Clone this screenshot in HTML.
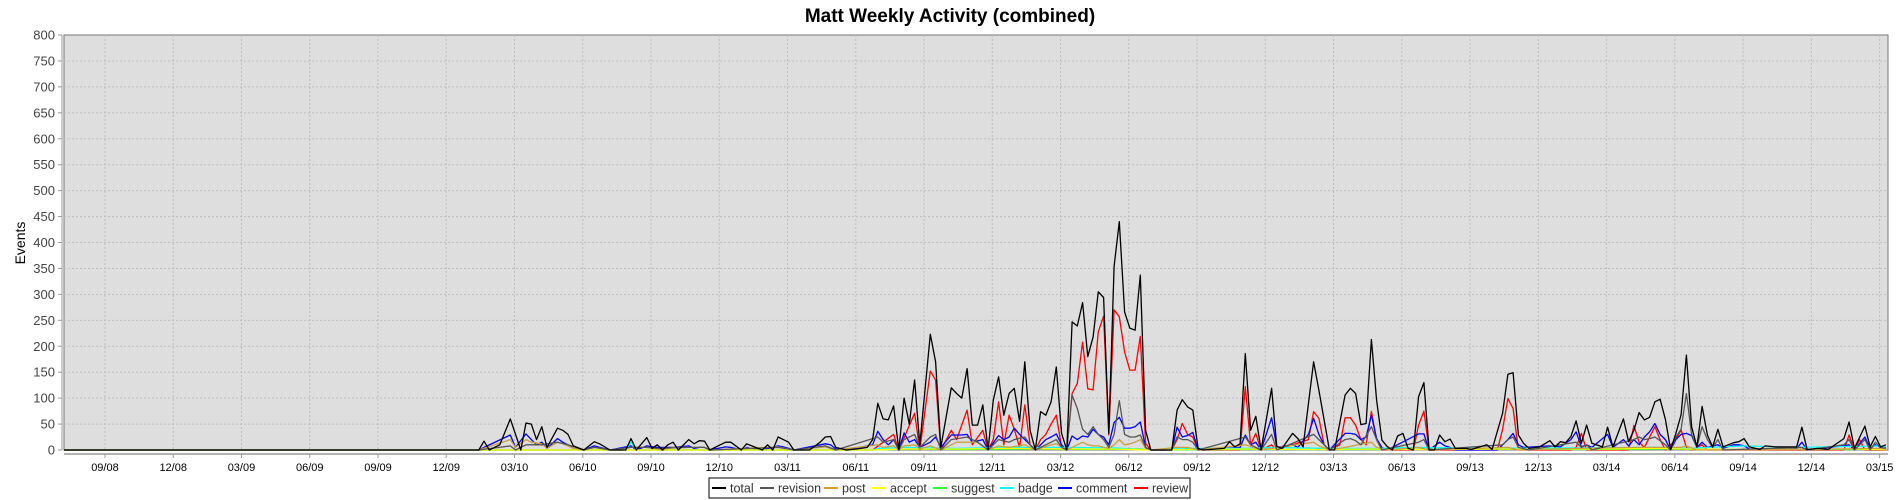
<!DOCTYPE html>
<html><head><meta charset="utf-8"><style>
html,body{margin:0;padding:0;background:#fff;width:1900px;height:500px;overflow:hidden}
svg{display:block;font-family:"Liberation Sans",sans-serif}
</style></head><body>
<svg id="chart" width="1900" height="500">
<text x="950" y="22" text-anchor="middle" font-size="19" font-weight="bold" fill="#000">Matt Weekly Activity (combined)</text>
<text transform="translate(25,243) rotate(-90)" text-anchor="middle" font-size="14" fill="#000">Events</text>
<rect x="64" y="35" width="1824" height="415" fill="#dedede" stroke="#777" stroke-width="1"/>
<g id="grid"></g><g id="yticks"></g><g id="xticks"></g><g id="series"></g>
<line x1="64" y1="454" x2="1888" y2="454" stroke="#999" stroke-width="1.5"/>
<line x1="62" y1="35" x2="62" y2="450" stroke="#999" stroke-width="1"/>
<g id="legend"></g>
</svg>
<script>
const yTicks=[0,50,100,150,200,250,300,350,400,450,500,550,600,650,700,750,800];
const xTickLabels=["09/08","12/08","03/09","06/09","09/09","12/09","03/10","06/10","09/10","12/10","03/11","06/11","09/11","12/11","03/12","06/12","09/12","12/12","03/13","06/13","09/13","12/13","03/14","06/14","09/14","12/14","03/15"];
const xTickWeeks=[7.8,20.8,33.8,46.8,59.8,72.8,85.8,98.8,111.8,124.8,137.8,150.8,163.8,176.8,189.8,202.8,215.8,228.8,241.8,254.8,267.8,280.8,293.8,306.8,319.8,332.8,345.8];
const seriesNames=["total","revision","post","accept","suggest","badge","comment","review"];
const seriesColors=["#000000","#555555","#c8a040","#ffff00","#33ff33","#00ffff","#0000ff","#ff0000"];

const totalWeeks=[0,77,79,80,81,83,85,87,88,89,90,91,92,94,95,96,97,99,101,102,104,107,108,109,111,112,113,114,115,116,117,119,120,121,122,123,125,126,127,129,130,131,133,134,135,136,137,138,139,142,144,145,146,147,149,151,153,154,155,156,157,158,159,160,161,162,163,165,166,167,169,170,171,172,173,174,175,176,177,178,179,180,181,182,183,184,185,186,187,188,189,190,191,192,193,194,195,196,197,198,199,200,201,202,203,204,205,206,207,211,212,213,214,215,216,217,221,222,223,224,225,226,227,228,230,231,232,234,235,236,238,239,241,242,244,245,246,247,248,249,250,251,252,253,254,255,256,257,258,259,260,261,262,263,264,265,267,268,271,272,274,275,276,277,278,279,281,283,284,285,286,287,288,289,290,291,293,294,295,297,298,299,300,301,302,303,304,305,306,307,308,309,310,311,312,313,314,315,316,318,319,320,321,323,324,326,330,331,332,334,336,339,340,341,343,344,345,346,347];
const totalVals=[0,0,0,17,0,10,60,0,52,50,20,45,5,42,38,30,8,0,16,12,0,0,22,0,24,3,10,0,10,15,0,20,12,18,17,0,10,15,15,0,12,8,0,10,0,25,20,15,0,0,15,25,26,5,0,2,5,20,90,60,58,85,0,100,50,135,10,223,170,5,120,109,100,157,48,48,87,1,96,141,67,109,119,55,170,38,0,74,67,93,160,32,0,247,239,284,180,218,305,294,32,354,440,266,235,231,337,38,0,0,77,97,83,77,3,0,3,16,6,12,186,38,65,0,119,7,3,32,22,6,170,115,0,0,106,119,109,49,51,213,96,19,7,0,27,32,3,0,103,130,0,0,29,16,21,3,3,1,10,1,71,146,149,29,13,3,6,18,6,16,14,26,56,13,48,13,6,44,6,60,16,38,72,58,63,93,98,59,1,32,68,183,45,6,84,29,6,40,6,14,16,22,6,1,8,6,6,44,1,3,1,22,54,3,46,6,26,6,10];

const revisionWeeks=[0,79,85,86,88,91,94,96,99,101,104,108,111,113,119,122,123,136,139,145,147,155,156,158,159,160,162,163,165,166,167,169,172,174,176,178,180,181,183,184,185,187,189,190,191,192,193,194,195,196,197,198,199,200,201,202,203,204,205,206,207,211,212,213,214,215,216,225,226,228,230,231,238,239,241,244,245,246,247,249,250,251,258,259,260,274,275,276,277,279,288,289,290,291,297,299,300,301,302,303,304,305,306,307,308,309,310,311,312,313,314,315,316,331,332,339,340,341,343,344,345,346,347];
const revisionVals=[0,0,8,0,10,10,15,10,0,5,0,5,5,3,5,5,0,5,0,8,0,25,15,20,0,20,30,5,25,30,0,20,25,15,0,20,15,20,25,10,0,10,20,5,0,106,80,40,30,45,30,20,5,30,95,30,25,25,29,5,0,0,25,20,20,15,0,25,10,0,30,0,30,20,0,20,22,18,10,45,20,0,15,20,0,10,20,25,5,0,15,5,10,0,15,20,25,20,22,25,18,10,0,25,40,109,30,5,45,20,5,20,0,5,0,10,20,0,20,0,15,5,3];

const postWeeks=[0,79,85,86,88,89,91,92,94,95,97,99,101,104,108,111,114,116,119,122,123,136,139,145,147,155,156,158,159,160,162,163,165,167,169,170,172,174,176,178,180,183,185,188,189,191,192,194,195,196,197,198,199,200,201,202,203,204,205,206,207,212,214,216,225,228,238,239,241,244,249,250,252,258,260,275,277,288,300,303,308,309,311,339,345,347];
const postVals=[0,0,20,5,20,15,12,3,15,12,3,0,5,0,5,5,0,5,5,5,0,6,0,6,0,10,5,8,0,8,10,2,8,0,10,15,15,15,0,8,5,10,0,10,12,0,5,15,10,8,8,5,3,10,20,10,12,15,20,3,0,5,5,0,10,0,15,8,0,5,15,5,0,5,0,5,0,3,5,5,5,8,0,2,3,2];

const acceptWeeks=[0,154,160,170,180,190,200,206,212,225,238,249,259,275,290,303,309,320,340,347];
const acceptVals=[0,0,2,2,3,2,2,0,1,2,1,2,1,2,2,3,2,1,2,1];

const suggestWeeks=[0,154,162,172,185,195,205,207,225,238,250,276,290,305,320,347];
const suggestVals=[0,0,2,1,2,1,2,0,1,1,1,2,1,2,1,1];

const badgeWeeks=[0,107,108,109,154,155,160,170,180,190,200,207,212,225,230,240,250,258,270,288,303,309,320,330,346,347];
const badgeVals=[0,0,15,0,0,3,5,3,5,5,4,0,3,3,5,3,3,5,3,4,5,3,8,5,8,3];

const commentWeeks=[0,79,80,85,86,88,89,90,91,92,94,95,96,97,99,101,102,104,108,109,111,113,116,119,120,121,122,123,126,127,129,130,131,133,136,137,138,139,145,146,147,149,154,155,156,157,158,159,160,161,162,163,165,166,167,169,170,171,172,173,175,176,178,179,180,181,182,183,184,185,186,187,188,189,190,191,192,193,194,195,196,197,198,199,200,201,202,203,204,205,206,207,211,212,213,214,215,216,224,225,226,227,228,230,231,234,235,237,238,239,240,241,244,245,246,247,248,249,250,251,252,258,259,260,262,263,264,265,273,274,275,276,277,278,283,285,287,288,289,290,291,294,295,297,298,299,300,301,302,303,304,305,306,307,308,309,310,311,312,313,315,316,318,319,320,321,330,331,332,339,340,341,343,344,345,346,347];
const commentVals=[0,0,5,29,5,31,20,10,15,3,22,15,10,3,0,8,5,0,8,0,8,5,5,8,3,5,5,0,6,5,0,5,3,0,8,6,3,0,12,10,2,0,10,36,20,10,20,0,33,15,20,5,15,25,5,29,29,29,30,15,20,0,28,20,25,42,30,20,10,0,10,20,25,31,10,0,27,20,27,25,40,30,25,10,53,63,42,42,45,54,5,0,0,44,25,28,34,0,5,29,10,15,0,62,5,10,5,30,61,30,10,0,32,32,30,20,25,67,22,5,0,31,31,0,15,8,5,0,0,10,20,32,10,5,8,6,20,35,6,10,5,30,5,20,8,20,10,25,35,51,30,20,0,20,30,32,28,5,15,5,10,3,10,10,8,2,3,15,0,8,10,0,25,3,10,5,5];

const reviewWeeks=[0,154,158,159,162,163,165,166,167,169,170,172,173,175,176,177,178,179,180,181,182,183,184,185,186,187,188,189,190,191,192,193,194,195,196,197,198,199,200,201,202,203,204,205,206,207,211,212,213,214,215,216,224,225,226,227,228,230,231,237,238,239,240,241,243,244,245,246,247,248,249,250,251,257,258,259,260,273,274,275,276,277,287,288,289,290,298,299,300,301,303,304,305,307,308,309,310,312,313,339,340,341,342,343,347];
const reviewVals=[0,0,30,0,71,0,152,135,0,38,20,77,10,38,0,20,93,10,67,40,5,87,10,0,20,30,50,67,5,0,109,128,208,118,116,228,258,29,270,257,189,154,154,219,13,0,0,20,51,30,25,0,0,122,10,32,0,10,0,20,74,61,10,0,10,62,62,48,20,10,74,20,0,0,48,75,0,0,40,99,80,0,0,5,32,0,0,47,15,5,45,20,0,20,39,5,0,10,0,0,29,0,20,0,0];

const PL=64,PR=1888,PT=35,PB=450,W0=0,W1=347.4,YMAX=800;
function xScale(w){return PL+(w-W0)/(W1-W0)*(PR-PL);}
function yScale(v){return PB-v/YMAX*(PB-PT);}
const NS="http://www.w3.org/2000/svg";
function mk(tag,parent){const e=document.createElementNS(NS,tag);parent.appendChild(e);return e;}
const grid=document.getElementById('grid'),yt=document.getElementById('yticks'),xt=document.getElementById('xticks'),sg=document.getElementById('series'),lg=document.getElementById('legend');
yTicks.forEach(v=>{
  const y=yScale(v);
  if(v>0&&v<YMAX){const g=mk('line',grid);g.setAttribute('x1',PL);g.setAttribute('x2',PR);g.setAttribute('y1',y);g.setAttribute('y2',y);g.setAttribute('stroke','#bdbdbd');g.setAttribute('stroke-dasharray','2,2');
  
  }
  const tk=mk('line',yt);tk.setAttribute('x1',58);tk.setAttribute('x2',62);tk.setAttribute('y1',y);tk.setAttribute('y2',y);tk.setAttribute('stroke','#999');
  
  
  const t=mk('text',yt);t.setAttribute('x',55);t.setAttribute('y',y+4.5);t.setAttribute('text-anchor','end');t.setAttribute('font-size','13');t.setAttribute('fill','#444');t.textContent=v;
  
  
});
xTickWeeks.forEach((w,i)=>{
  const x=xScale(w);
  const g=mk('line',grid);g.setAttribute('x1',x);g.setAttribute('x2',x);g.setAttribute('y1',PT);g.setAttribute('y2',PB);g.setAttribute('stroke','#bdbdbd');g.setAttribute('stroke-dasharray','2,2');
  
  
  const tk=mk('line',xt);tk.setAttribute('x1',x);tk.setAttribute('x2',x);tk.setAttribute('y1',454);tk.setAttribute('y2',458);tk.setAttribute('stroke','#999');
  
  
  const t=mk('text',xt);t.setAttribute('x',x);t.setAttribute('y',471);t.setAttribute('text-anchor','middle');t.setAttribute('font-size','11');t.setAttribute('fill','#000');t.textContent=xTickLabels[i];
  
  
});
const seriesData=[[totalWeeks,totalVals],[revisionWeeks,revisionVals],[postWeeks,postVals],[acceptWeeks,acceptVals],[suggestWeeks,suggestVals],[badgeWeeks,badgeVals],[commentWeeks,commentVals],[reviewWeeks,reviewVals]];
for(let s=seriesData.length-1;s>=0;s--){
  const [ws,vs]=seriesData[s];
  const pts=ws.map((w,i)=>xScale(w).toFixed(1)+','+yScale(vs[i]).toFixed(1));
  const p=mk('polyline',sg);p.setAttribute('points',pts.join(' '));p.setAttribute('fill','none');p.setAttribute('stroke',seriesColors[s]);p.setAttribute('stroke-width','1.3');p.setAttribute('stroke-linejoin','round');
  
  
}
// legend
const box=mk('rect',lg);box.setAttribute('x',709);box.setAttribute('y',478);box.setAttribute('width',481);box.setAttribute('height',20);box.setAttribute('fill','#fff');box.setAttribute('stroke','#000');


const legX=[712,760,824,872,933,1000,1058,1134];
seriesNames.forEach((n,i)=>{
  const lx=legX[i];
  const ln=mk('line',lg);ln.setAttribute('x1',lx);ln.setAttribute('x2',lx+14);ln.setAttribute('y1',488);ln.setAttribute('y2',488);ln.setAttribute('stroke',seriesColors[i]);ln.setAttribute('stroke-width','2');
  
  
  const t=mk('text',lg);t.setAttribute('x',lx+18);t.setAttribute('y',492.5);t.setAttribute('font-size','12.5');t.setAttribute('fill','#333');t.textContent=n;
  
  
});
</script>
</body></html>
